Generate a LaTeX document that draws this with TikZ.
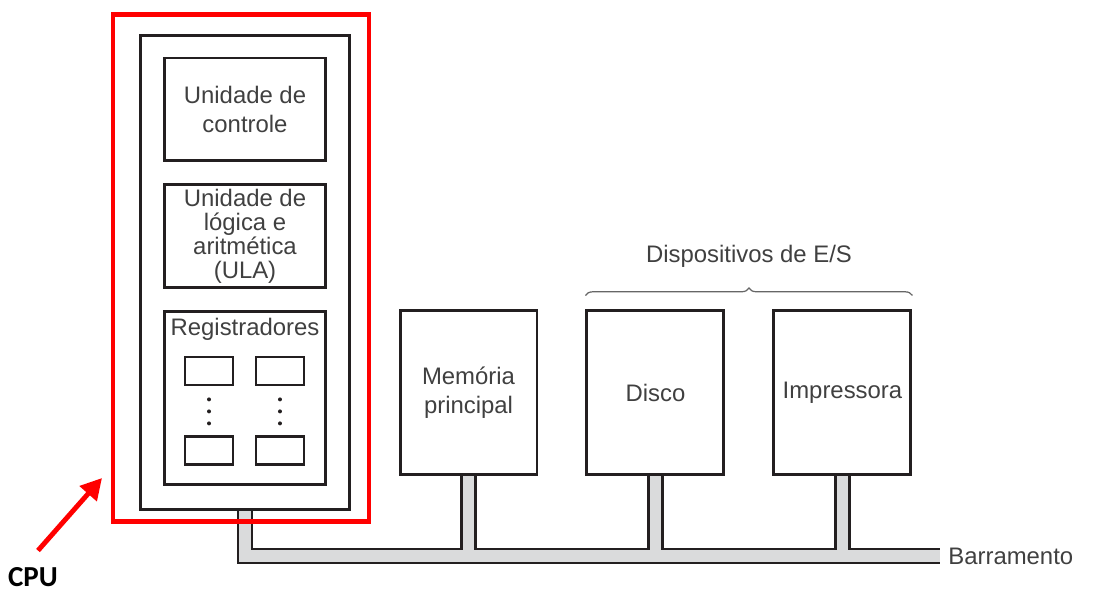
\documentclass[tikz,border=0pt]{standalone}
\usepackage{fontspec}
\setmainfont{Liberation Sans}
\newfontfamily\cpufont{Carlito}
\usepackage{tikz}
\usetikzlibrary{positioning,arrows.meta,decorations.pathreplacing,calc,backgrounds}
\definecolor{linha}{HTML}{231F20}
\definecolor{texto}{HTML}{404040}
\definecolor{cinza}{HTML}{DADBDC}

\begin{document}
\begin{tikzpicture}[x=0.02cm,y=-0.02cm,node distance=3.74cm,on grid,
    caixa/.style={draw=linha,line width=1.7pt,align=center,text=texto,font=\fontsize{13.6}{16.4}\selectfont,inner sep=0pt},
    unidade/.style={caixa,minimum width=3.24cm,minimum height=2.06cm},
    dispositivo/.style={caixa,minimum width=2.74cm,minimum height=3.3cm},
    registro/.style={draw=linha,line width=1.6pt,minimum width=0.96cm,minimum height=0.56cm,inner sep=0pt},
    rotulo/.style={text=texto,font=\fontsize{13.6}{16.4}\selectfont,inner sep=0pt},
    barra/.style={line width=0.33cm,draw=linha},
    barrainterna/.style={line width=0.23cm,draw=cinza}]
  \useasboundingbox (0,0) rectangle (1094,604);

  % CPU
  \node[caixa,minimum width=4.2cm,minimum height=9.5cm] (cpu) at (245,272.5) {};
  \node[unidade] (uc) at (245,109.5) {Unidade de\\controle};
  \node[unidade,font=\fontsize{13.6}{13.6}\selectfont] (ula) at (245,236) {Unidade de\\lógica e\\aritmética\\(ULA)};
  \node[unidade,minimum height=3.48cm] (regs) at (245,398) {};
  \node[rotulo] (regtitulo) [below=0.16cm of regs.north] {Registradores};
  \node[registro] (r1) at (209,371) {};
  \node[registro] (r2) [right=1.42cm of r1] {};
  \node[registro] (r3) [below=1.59cm of r1] {};
  \node[registro] (r4) [right=1.42cm of r3] {};
  \foreach \r in {r1,r2}
    \foreach \d in {0.26,0.5,0.74}
      \fill[linha] ([yshift=-\d cm]\r.south) circle (2);

  % memoria e dispositivos
  \node[dispositivo] (mem) at (468.5,392.5) {Memória\\principal\vphantom{g}};
  \node[dispositivo] (disco) [right=of mem] {Disco};
  \node[dispositivo] (impr) [right=of disco] {Impressora};
  \draw[texto!80,line width=0.7pt,decorate,decoration={brace,amplitude=0.15cm}]
    ([yshift=0.26cm]disco.north west) -- ([yshift=0.26cm]impr.north east);
  \coordinate (chave) at ($(disco.north west)!0.5!(impr.north east)$);
  \node[rotulo] (es) [above=0.82cm of chave] {Dispositivos de E/S};

  % barramento
  \coordinate (fim) at (940,556);
  \begin{scope}[on background layer]
    \foreach \estilo in {barra,barrainterna}{
      \draw[\estilo] (cpu.south) |- (fim);
      \foreach \n in {mem,disco,impr}
        \draw[\estilo] (\n.south) -- (\n.south |- fim);
    }
  \end{scope}
  \node[rotulo,anchor=west] (barr) at ([xshift=0.16cm]fim) {Barramento};

  % destaque da CPU
  \node[draw=red,line width=2.8pt,minimum width=5.12cm,minimum height=10.16cm] (destaque) at (241,268) {};
  \node[font=\cpufont\bfseries\fontsize{16.5}{18}\selectfont,inner sep=0pt] (cpurot) at (33,577) {CPU};
  \coordinate (seta) at (102,478);
  \draw[red,line width=2.8pt,-{Triangle[length=0.42cm,width=0.44cm]}]
    ([xshift=0.1cm,yshift=0.33cm]cpurot.north) -- (seta);
\end{tikzpicture}
\end{document}
